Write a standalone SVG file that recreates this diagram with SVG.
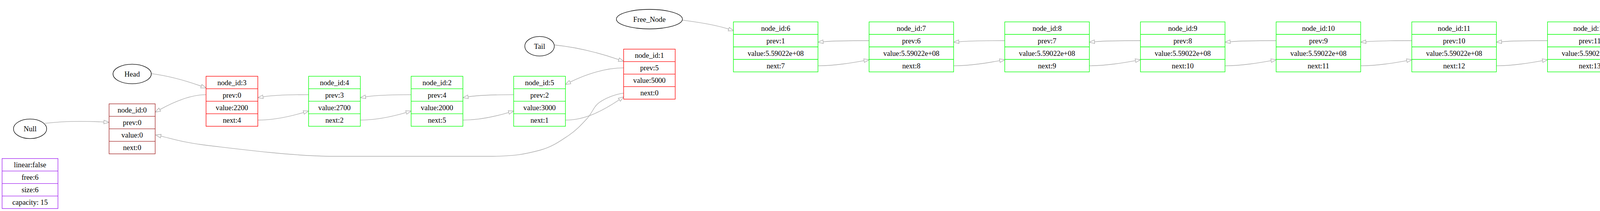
<svg xmlns="http://www.w3.org/2000/svg" width="4878" height="540" viewBox="0 0 4878 540">
<style>
text{font-family:"Liberation Serif","Times New Roman",serif;font-size:18.67px;text-anchor:middle;fill:#000}
.box rect{fill:#fff;stroke-width:1.33}
.box line{stroke-width:1.33}
.red rect,.red line{stroke:#ff0000}
.green rect,.green line{stroke:#00ff00}
.brown rect,.brown line{stroke:#a52a2a}
.purple rect,.purple line{stroke:#a020f0}
ellipse{fill:#fff;stroke:#000;stroke-width:1.33}
#edges path{fill:none;stroke:#a9a9a9;stroke-width:1.33;marker-end:url(#arr)}
</style>
<defs>
<marker id="arr" markerUnits="userSpaceOnUse" viewBox="-2 -7 18 14" markerWidth="18" markerHeight="14" refX="0" refY="0" orient="auto" overflow="visible">
<path d="M0,-4.67 L13.3,0 L0,4.67 Z" fill="#fff" stroke="#a9a9a9" stroke-width="1.33"/>
</marker>
</defs>
<rect width="4878" height="540" fill="#fff"/>

<g id="edges">
<!-- Null -> node0 -->
<path d="M114.8,315.7 C160,310 215,309.5 266,312.3"/>
<!-- Head -> node3 -->
<path d="M387.3,188.3 C430,194 475,206 515.3,220.6"/>
<!-- node3 prev -> node0 -->
<path d="M527.5,242.3 C490,242.3 450,258 409,280.6"/>
<!-- left chain prev -->
<path d="M790,242.3 C745,242.3 700,243.5 673.2,247.8"/>
<path d="M1052.5,242.3 C1007.5,242.3 962.5,243.5 935.7,247.8"/>
<path d="M1315,242.3 C1270,242.3 1225,243.5 1198.2,247.8"/>
<!-- left chain next -->
<path d="M660,307.3 C705,307.3 750,296 777.4,287.8"/>
<path d="M922.5,307.3 C967.5,307.3 1012.5,296 1039.9,287.8"/>
<path d="M1185,307.3 C1230,307.3 1275,296 1302.4,287.8"/>
<!-- Tail -> node1 -->
<path d="M1418.5,115 C1470,120 1530,134 1584.2,152.6"/>
<!-- node1 prev -> node5 -->
<path d="M1596.5,173.7 C1550,173.7 1500,190 1459.2,210.2"/>
<!-- node5 next -> node1 -->
<path d="M1448,307.3 C1500,307.3 1545,282 1585.5,255.3"/>
<!-- node1 next -> node0 -->
<path d="M1596.5,238.3 C1576.3,240.5 1550,251.2 1534.6,262 C1519.2,272.8 1516.2,289.2 1503,303.3 C1489.8,317.4 1476,333.1 1455.5,346.7 C1435,360.3 1414.3,376.1 1380,385 C1345.75,393.9 1320,400 1250,400 L854,400 C754,400 611.7,381.6 538,373 C464.3,364.4 437.7,353.9 411.6,348.3"/>
<!-- Free_Node -> node6 -->
<path d="M1747.4,51.7 C1790,57 1830,63 1865.5,74.5"/>
<!-- right chain prev -->
<path d="M2224.85,104 C2179.85,104 2134,104.5 2107.2,106.8"/>
<path d="M2572.2,104 C2527.2,104 2481.35,104.5 2454.55,106.8"/>
<path d="M2919.55,104 C2874.55,104 2828.7,104.5 2801.9,106.8"/>
<path d="M3266.9,104 C3221.9,104 3176.05,104.5 3149.25,106.8"/>
<path d="M3614.25,104 C3569.25,104 3523.4,104.5 3496.6,106.8"/>
<path d="M3961.6,104 C3916.6,104 3870.75,104.5 3843.95,106.8"/>
<path d="M4308.95,104 C4263.95,104 4218.1,104.5 4191.3,106.8"/>
<path d="M4656.3,104 C4610,104 4570,104.5 4538.6,108"/>
<!-- right chain next -->
<path d="M2094,168.3 C2139,168.3 2184.85,160 2212.05,155.2"/>
<path d="M2441.35,168.3 C2486.35,168.3 2532.2,160 2559.4,155.2"/>
<path d="M2788.7,168.3 C2833.7,168.3 2879.55,160 2906.75,155.2"/>
<path d="M3136.05,168.3 C3181.05,168.3 3226.9,160 3254.1,155.2"/>
<path d="M3483.4,168.3 C3528.4,168.3 3574.25,160 3601.45,155.2"/>
<path d="M3830.75,168.3 C3875.75,168.3 3921.6,160 3948.8,155.2"/>
<path d="M4178.1,168.3 C4223.1,168.3 4268.95,160 4296.15,155.2"/>
<path d="M4525.45,168.3 C4570.45,168.3 4616.3,160 4643.5,155.2"/>
<!-- node14 next -> node14 -->
<path d="M4656.3,184 C4590,186 4505,180 4487,158 C4474,142 4488,118 4526,110 C4560,104 4610,104 4643,104"/>
</g>

<g id="Null"><ellipse cx="77" cy="329.7" rx="42.5" ry="25"/><text x="77" y="336.2">Null</text></g>
<g id="Head"><ellipse cx="338.3" cy="189.3" rx="49" ry="25"/><text x="338.3" y="195.8">Head</text></g>
<g id="Tail"><ellipse cx="1381.25" cy="118.3" rx="37.8" ry="25"/><text x="1381.25" y="124.8">Tail</text></g>
<g id="Free_Node"><ellipse cx="1662.5" cy="49" rx="84.5" ry="25"/><text x="1662.5" y="55.5">Free_Node</text></g>

<g id="info" class="box purple">
<rect x="5.4" y="405.7" width="143" height="128"/>
<line x1="5.4" y1="437.7" x2="148.4" y2="437.7"/><line x1="5.4" y1="469.7" x2="148.4" y2="469.7"/><line x1="5.4" y1="501.7" x2="148.4" y2="501.7"/>
<text x="76.9" y="428.2">linear:false</text><text x="76.9" y="460.2">free:6</text><text x="76.9" y="492.2">size:6</text><text x="76.9" y="524.2">capacity: 15</text>
</g>

<g id="node0" class="box brown">
<rect x="279.3" y="265.7" width="118" height="128"/>
<line x1="279.3" y1="297.7" x2="397.3" y2="297.7"/><line x1="279.3" y1="329.7" x2="397.3" y2="329.7"/><line x1="279.3" y1="361.7" x2="397.3" y2="361.7"/>
<text x="338.3" y="288.2">node_id:0</text><text x="338.3" y="320.2">prev:0</text><text x="338.3" y="352.2">value:0</text><text x="338.3" y="384.2">next:0</text>
</g>

<g id="node3" class="box red">
<rect x="527.5" y="195.2" width="132.5" height="128"/>
<line x1="527.5" y1="227.2" x2="660" y2="227.2"/><line x1="527.5" y1="259.2" x2="660" y2="259.2"/><line x1="527.5" y1="291.2" x2="660" y2="291.2"/>
<text x="593.75" y="217.7">node_id:3</text><text x="593.75" y="249.7">prev:0</text><text x="593.75" y="281.7">value:2200</text><text x="593.75" y="313.7">next:4</text>
</g>

<g id="node4" class="box green">
<rect x="790" y="195.2" width="132.5" height="128"/>
<line x1="790" y1="227.2" x2="922.5" y2="227.2"/><line x1="790" y1="259.2" x2="922.5" y2="259.2"/><line x1="790" y1="291.2" x2="922.5" y2="291.2"/>
<text x="856.25" y="217.7">node_id:4</text><text x="856.25" y="249.7">prev:3</text><text x="856.25" y="281.7">value:2700</text><text x="856.25" y="313.7">next:2</text>
</g>

<g id="node2" class="box green">
<rect x="1052.5" y="195.2" width="132.5" height="128"/>
<line x1="1052.5" y1="227.2" x2="1185" y2="227.2"/><line x1="1052.5" y1="259.2" x2="1185" y2="259.2"/><line x1="1052.5" y1="291.2" x2="1185" y2="291.2"/>
<text x="1118.75" y="217.7">node_id:2</text><text x="1118.75" y="249.7">prev:4</text><text x="1118.75" y="281.7">value:2000</text><text x="1118.75" y="313.7">next:5</text>
</g>

<g id="node5" class="box green">
<rect x="1315" y="195.2" width="132.5" height="128"/>
<line x1="1315" y1="227.2" x2="1447.5" y2="227.2"/><line x1="1315" y1="259.2" x2="1447.5" y2="259.2"/><line x1="1315" y1="291.2" x2="1447.5" y2="291.2"/>
<text x="1381.25" y="217.7">node_id:5</text><text x="1381.25" y="249.7">prev:2</text><text x="1381.25" y="281.7">value:3000</text><text x="1381.25" y="313.7">next:1</text>
</g>

<g id="node1" class="box red">
<rect x="1596.5" y="125.7" width="132" height="128"/>
<line x1="1596.5" y1="157.7" x2="1728.5" y2="157.7"/><line x1="1596.5" y1="189.7" x2="1728.5" y2="189.7"/><line x1="1596.5" y1="221.7" x2="1728.5" y2="221.7"/>
<text x="1662.5" y="148.2">node_id:1</text><text x="1662.5" y="180.2">prev:5</text><text x="1662.5" y="212.2">value:5000</text><text x="1662.5" y="244.2">next:0</text>
</g>

<g id="node6" class="box green">
<rect x="1877.5" y="56" width="216.5" height="128"/>
<line x1="1877.5" y1="88" x2="2094" y2="88"/><line x1="1877.5" y1="120" x2="2094" y2="120"/><line x1="1877.5" y1="152" x2="2094" y2="152"/>
<text x="1985.75" y="78.5">node_id:6</text><text x="1985.75" y="110.5">prev:1</text><text x="1985.75" y="142.5">value:5.59022e+08</text><text x="1985.75" y="174.5">next:7</text>
</g>

<g id="node7" class="box green">
<rect x="2224.85" y="56" width="216.5" height="128"/>
<line x1="2224.85" y1="88" x2="2441.35" y2="88"/><line x1="2224.85" y1="120" x2="2441.35" y2="120"/><line x1="2224.85" y1="152" x2="2441.35" y2="152"/>
<text x="2333.1" y="78.5">node_id:7</text><text x="2333.1" y="110.5">prev:6</text><text x="2333.1" y="142.5">value:5.59022e+08</text><text x="2333.1" y="174.5">next:8</text>
</g>

<g id="node8" class="box green">
<rect x="2572.2" y="56" width="216.5" height="128"/>
<line x1="2572.2" y1="88" x2="2788.7" y2="88"/><line x1="2572.2" y1="120" x2="2788.7" y2="120"/><line x1="2572.2" y1="152" x2="2788.7" y2="152"/>
<text x="2680.45" y="78.5">node_id:8</text><text x="2680.45" y="110.5">prev:7</text><text x="2680.45" y="142.5">value:5.59022e+08</text><text x="2680.45" y="174.5">next:9</text>
</g>

<g id="node9" class="box green">
<rect x="2919.55" y="56" width="216.5" height="128"/>
<line x1="2919.55" y1="88" x2="3136.05" y2="88"/><line x1="2919.55" y1="120" x2="3136.05" y2="120"/><line x1="2919.55" y1="152" x2="3136.05" y2="152"/>
<text x="3027.8" y="78.5">node_id:9</text><text x="3027.8" y="110.5">prev:8</text><text x="3027.8" y="142.5">value:5.59022e+08</text><text x="3027.8" y="174.5">next:10</text>
</g>

<g id="node10" class="box green">
<rect x="3266.9" y="56" width="216.5" height="128"/>
<line x1="3266.9" y1="88" x2="3483.4" y2="88"/><line x1="3266.9" y1="120" x2="3483.4" y2="120"/><line x1="3266.9" y1="152" x2="3483.4" y2="152"/>
<text x="3375.15" y="78.5">node_id:10</text><text x="3375.15" y="110.5">prev:9</text><text x="3375.15" y="142.5">value:5.59022e+08</text><text x="3375.15" y="174.5">next:11</text>
</g>

<g id="node11" class="box green">
<rect x="3614.25" y="56" width="216.5" height="128"/>
<line x1="3614.25" y1="88" x2="3830.75" y2="88"/><line x1="3614.25" y1="120" x2="3830.75" y2="120"/><line x1="3614.25" y1="152" x2="3830.75" y2="152"/>
<text x="3722.5" y="78.5">node_id:11</text><text x="3722.5" y="110.5">prev:10</text><text x="3722.5" y="142.5">value:5.59022e+08</text><text x="3722.5" y="174.5">next:12</text>
</g>

<g id="node12" class="box green">
<rect x="3961.6" y="56" width="216.5" height="128"/>
<line x1="3961.6" y1="88" x2="4178.1" y2="88"/><line x1="3961.6" y1="120" x2="4178.1" y2="120"/><line x1="3961.6" y1="152" x2="4178.1" y2="152"/>
<text x="4069.85" y="78.5">node_id:12</text><text x="4069.85" y="110.5">prev:11</text><text x="4069.85" y="142.5">value:5.59022e+08</text><text x="4069.85" y="174.5">next:13</text>
</g>

<g id="node13" class="box green">
<rect x="4308.95" y="56" width="216.5" height="128"/>
<line x1="4308.95" y1="88" x2="4525.45" y2="88"/><line x1="4308.95" y1="120" x2="4525.45" y2="120"/><line x1="4308.95" y1="152" x2="4525.45" y2="152"/>
<text x="4417.2" y="78.5">node_id:13</text><text x="4417.2" y="110.5">prev:12</text><text x="4417.2" y="142.5">value:5.59022e+08</text><text x="4417.2" y="174.5">next:14</text>
</g>

<g id="node14" class="box green">
<rect x="4656.3" y="56" width="216.5" height="128"/>
<line x1="4656.3" y1="88" x2="4872.8" y2="88"/><line x1="4656.3" y1="120" x2="4872.8" y2="120"/><line x1="4656.3" y1="152" x2="4872.8" y2="152"/>
<text x="4764.55" y="78.5">node_id:14</text><text x="4764.55" y="110.5">prev:13</text><text x="4764.55" y="142.5">value:5.59022e+08</text><text x="4764.55" y="174.5">next:14</text>
</g>
</svg>
